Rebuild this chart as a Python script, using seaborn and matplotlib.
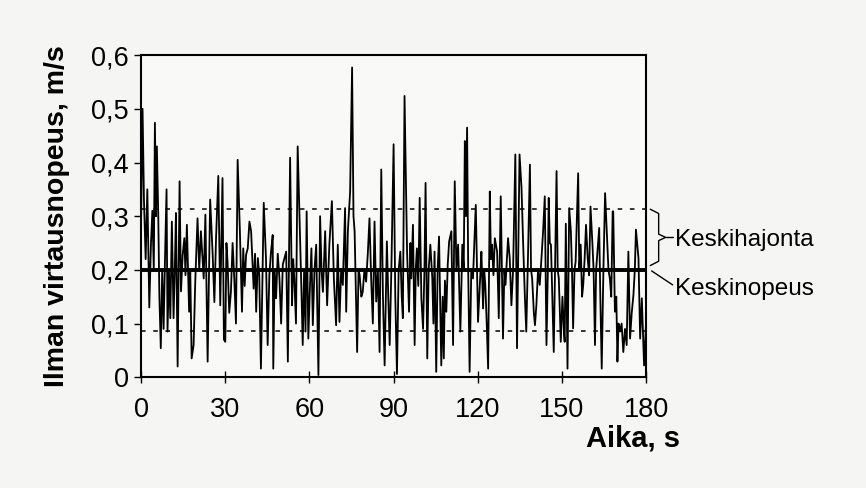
import matplotlib
matplotlib.use('Agg')
import matplotlib.pyplot as plt
import seaborn as sns
import pandas as pd

# Air flow speed (time in s, speed in m/s)
time_s = [0, 0.5, 1.0, 1.6, 2.2, 2.9, 3.5, 4.0, 4.5, 4.9, 5.3, 5.6, 6.1, 6.5, 7.0, 7.5, 8.0, 8.5,
          9.05, 9.4, 9.9, 10.4, 10.95, 11.55, 12.0, 12.4, 13.0, 13.7, 14.2, 14.8, 15.4, 15.8, 16.3,
          17.1, 17.5, 18.0, 18.7, 19.3, 20.1, 20.7, 21.3, 22.3, 22.9, 23.7, 24.2, 24.6, 25.5, 26.1,
          26.7, 27.5, 28.2, 29.0,
          29.5, 30.0, 30.4, 30.8, 31.4, 32.0, 32.6, 33.2, 33.8, 34.4, 35.2, 35.95, 36.4, 36.9, 37.4,
          38.0, 38.6, 39.2, 40.1, 40.6, 41.0, 41.6, 42.1, 42.7, 43.7, 44.5, 45.1, 45.7, 46.3, 46.9,
          47.1, 47.6, 48.1, 48.7, 49.3, 49.9, 50.5, 51.1, 51.7, 52.3, 53.1, 53.8, 54.2, 54.6, 55.2,
          55.8, 56.7, 57.2, 57.6, 58.1, 58.6,
          59.0, 59.6, 60.2, 60.7, 61.2, 61.8, 62.4, 63.2, 63.8, 64.3, 64.8, 65.6, 66.3, 67.1, 68.0,
          68.7, 69.5, 70.1, 70.7, 71.3, 71.9, 72.7, 73.1, 73.7, 74.5, 75.2, 75.7, 76.1, 77.0, 77.5,
          77.9, 78.5, 79.0, 79.6, 80.2, 80.8, 81.4, 82.0, 82.6, 83.2, 83.8, 84.4, 85.0, 85.6, 86.2,
          86.8, 87.6, 88.1, 88.6, 89.2,
          90.0, 90.6, 91.2, 91.8, 92.4, 92.9, 93.3, 93.9, 94.8, 95.5, 96.0, 96.3, 96.9, 97.5, 97.9,
          98.3, 98.8, 99.3, 99.9, 100.5, 101.0, 101.4, 102.0, 102.5, 103.1, 103.8, 104.2, 104.6,
          105.2, 105.7, 106.2, 107.0, 107.5, 107.9, 108.3, 108.8, 109.3, 109.8, 110.6, 111.2, 111.8,
          112.4, 113.0, 113.8, 114.5, 115.0, 115.4, 115.8, 116.2, 116.6, 117.1, 117.7, 118.3, 119.3,
          120.1,
          120.4, 121.0, 121.3, 121.9, 122.3, 122.7, 123.2, 123.7, 124.3, 124.7, 125.1, 125.6, 126.1,
          126.9, 127.5, 128.2, 128.6, 129.0, 129.5, 129.9, 130.8, 131.4, 132.0, 132.6, 133.4, 134.0,
          134.5, 134.9, 135.6, 136.2, 136.8, 137.3, 137.9, 138.6, 139.0, 139.4, 140.0, 140.4, 140.9,
          141.5, 142.1, 142.7, 143.3, 143.9, 144.5, 145.0, 145.3, 145.7, 146.1, 146.6, 147.1, 148.1,
          148.5, 148.9, 149.6, 150.2, 150.8,
          151.0, 151.4, 152.0, 152.6, 153.2, 153.6, 154.0, 154.5, 154.9, 155.8, 156.2, 156.7, 157.2,
          157.6, 158.1, 158.6, 159.2, 159.7, 160.2, 160.9, 161.3, 161.8, 162.2, 162.6, 163.3, 163.7,
          164.2, 164.8, 165.4, 166.2, 166.6, 167.1, 167.6, 168.1, 168.3, 168.9, 169.4, 169.8, 170.2,
          170.7, 171.3, 171.9, 172.5, 173.1, 173.7, 174.3, 174.9, 175.5, 176.0, 176.4, 177.3, 177.9,
          178.5, 179.3, 180.0]

speed = [0.30, 0.50, 0.33, 0.22, 0.35, 0.13, 0.25, 0.31, 0.20, 0.474, 0.30, 0.43, 0.30, 0.15, 0.054,
         0.20, 0.09, 0.22, 0.35, 0.085, 0.20, 0.11, 0.29, 0.11, 0.20, 0.306, 0.02, 0.365, 0.16, 0.228,
         0.259, 0.19, 0.284, 0.122, 0.20, 0.035, 0.06, 0.18, 0.296, 0.20, 0.272, 0.184, 0.303, 0.029,
         0.20, 0.331, 0.228, 0.14, 0.259, 0.375, 0.134, 0.371,
         0.07, 0.066, 0.25, 0.215, 0.12, 0.159, 0.25, 0.184, 0.10, 0.405, 0.272, 0.122, 0.24, 0.17,
         0.228, 0.24, 0.29, 0.272, 0.165, 0.23, 0.122, 0.222, 0.19, 0.016, 0.325, 0.222, 0.06, 0.19,
         0.234, 0.265, 0.016, 0.20, 0.147, 0.23, 0.184, 0.10, 0.21, 0.222, 0.234, 0.029, 0.409, 0.134,
         0.22, 0.184, 0.10, 0.43, 0.253, 0.15, 0.06, 0.20, 0.085,
         0.309, 0.072, 0.172, 0.24, 0.097, 0.20, 0.247, 0.004, 0.30, 0.20, 0.159, 0.272, 0.134, 0.247,
         0.328, 0.184, 0.097, 0.247, 0.103, 0.20, 0.172, 0.315, 0.122, 0.272, 0.346, 0.577, 0.30,
         0.272, 0.047, 0.20, 0.19, 0.15, 0.159, 0.20, 0.178, 0.23, 0.296, 0.184, 0.10, 0.29, 0.141,
         0.20, 0.047, 0.387, 0.15, 0.022, 0.253, 0.15, 0.06, 0.20,
         0.434, 0.15, 0.006, 0.20, 0.234, 0.15, 0.11, 0.524, 0.234, 0.122, 0.25, 0.184, 0.284, 0.06,
         0.20, 0.24, 0.17, 0.334, 0.147, 0.09, 0.20, 0.362, 0.035, 0.20, 0.247, 0.184, 0.10, 0.234,
         0.01, 0.20, 0.262, 0.022, 0.15, 0.035, 0.18, 0.122, 0.21, 0.253, 0.272, 0.06, 0.365, 0.20,
         0.247, 0.085, 0.247, 0.20, 0.44, 0.30, 0.465, 0.20, 0.01, 0.20, 0.184, 0.321, 0.103,
         0.134, 0.20, 0.234, 0.128, 0.20, 0.172, 0.10, 0.016, 0.346, 0.22, 0.247, 0.19, 0.259, 0.234,
         0.11, 0.337, 0.20, 0.072, 0.20, 0.172, 0.259, 0.222, 0.134, 0.20, 0.415, 0.054, 0.25, 0.415,
         0.353, 0.247, 0.15, 0.085, 0.222, 0.396, 0.20, 0.184, 0.12, 0.097, 0.134, 0.20, 0.172, 0.22,
         0.272, 0.337, 0.06, 0.20, 0.334, 0.25, 0.247, 0.15, 0.047, 0.384, 0.20, 0.184, 0.066, 0.15,
         0.078,
         0.066, 0.286, 0.016, 0.315, 0.272, 0.20, 0.091, 0.20, 0.215, 0.38, 0.20, 0.247, 0.15, 0.172,
         0.22, 0.284, 0.222, 0.19, 0.318, 0.247, 0.20, 0.06, 0.20, 0.228, 0.278, 0.15, 0.016, 0.20,
         0.343, 0.247, 0.20, 0.184, 0.15, 0.309, 0.309, 0.122, 0.15, 0.029, 0.10, 0.085, 0.10, 0.047,
         0.09, 0.06, 0.234, 0.072, 0.12, 0.153, 0.20, 0.275, 0.222, 0.072, 0.147, 0.022, 0.10]

mean_speed = 0.20
std_speed = 0.113

x_ticks = [0, 30, 60, 90, 120, 150, 180]
y_ticks = [0, 0.1, 0.2, 0.3, 0.4, 0.5, 0.6]
y_tick_labels = ['0', '0,1', '0,2', '0,3', '0,4', '0,5', '0,6']

df = pd.DataFrame({'time': time_s, 'speed': speed})

sns.set_style('white')
plt.rcParams['font.family'] = ['Liberation Sans', 'DejaVu Sans']
plt.rcParams['text.color'] = 'black'
plt.rcParams['axes.labelcolor'] = 'black'
plt.rcParams['xtick.color'] = 'black'
plt.rcParams['ytick.color'] = 'black'

bg = '#f5f5f3'
fig = plt.figure(figsize=(8.66, 4.88), dpi=100, facecolor=bg)
ax = fig.add_axes([0.163, 0.227, 0.583, 0.660])
ax.set_facecolor('#f9f9f7')

sns.lineplot(data=df, x='time', y='speed', ax=ax, color='black', linewidth=1.3,
             estimator=None, sort=False)

# mean and +/- one standard deviation
ax.axhline(mean_speed, color='black', linewidth=2.8, zorder=3)
ax.axhline(mean_speed + std_speed, color='black', linewidth=1.1, linestyle=(0, (3, 5)))
ax.axhline(mean_speed - std_speed, color='black', linewidth=1.1, linestyle=(0, (3, 5)))

ax.set_xlim(0, 180)
ax.set_ylim(0, 0.6)
ax.set_xticks(x_ticks)
ax.set_xticklabels([str(t) for t in x_ticks], fontsize=19.5)
ax.set_yticks(y_ticks)
ax.set_yticklabels(y_tick_labels, fontsize=19.5)
ax.tick_params(axis='x', direction='inout', length=8, width=1, pad=10, bottom=True)
ax.tick_params(axis='y', direction='out', length=5, width=1, pad=4, left=True)
for s in ax.spines.values():
    s.set_color('black')
    s.set_linewidth(1.5)

ax.set_xlabel('')
ax.set_ylabel('Ilman virtausnopeus, m/s', fontsize=20.5, fontweight='bold')
ax.yaxis.set_label_coords(-0.14, 0.5)
ax.text(1.067, -0.19, 'Aika, s', transform=ax.transAxes, ha='right', va='center',
        fontsize=21, fontweight='bold')

# brace for the standard deviation and pointer for the mean
top = mean_speed + std_speed
bot = mean_speed + 0.008
mid = (top + bot) / 2
bx = [181.5, 184.5, 184.5, 187.0, 184.5, 184.5, 181.5]
by = [top, top - 0.008, mid + 0.006, mid, mid - 0.006, bot + 0.008, bot]
ax.plot(bx, by, color='black', linewidth=1.0, clip_on=False)
ax.plot([187.0, 189.5], [mid, mid], color='black', linewidth=1.0, clip_on=False)
ax.plot([182.0, 189.5], [mean_speed - 0.002, 0.172], color='black', linewidth=1.0, clip_on=False)
ax.text(190.5, mid - 0.004, 'Keskihajonta', ha='left', va='center', fontsize=17.5,
        clip_on=False)
ax.text(190.5, 0.165, 'Keskinopeus', ha='left', va='center', fontsize=17.5,
        clip_on=False)

fig.savefig('out.png', dpi=100, facecolor=bg)
